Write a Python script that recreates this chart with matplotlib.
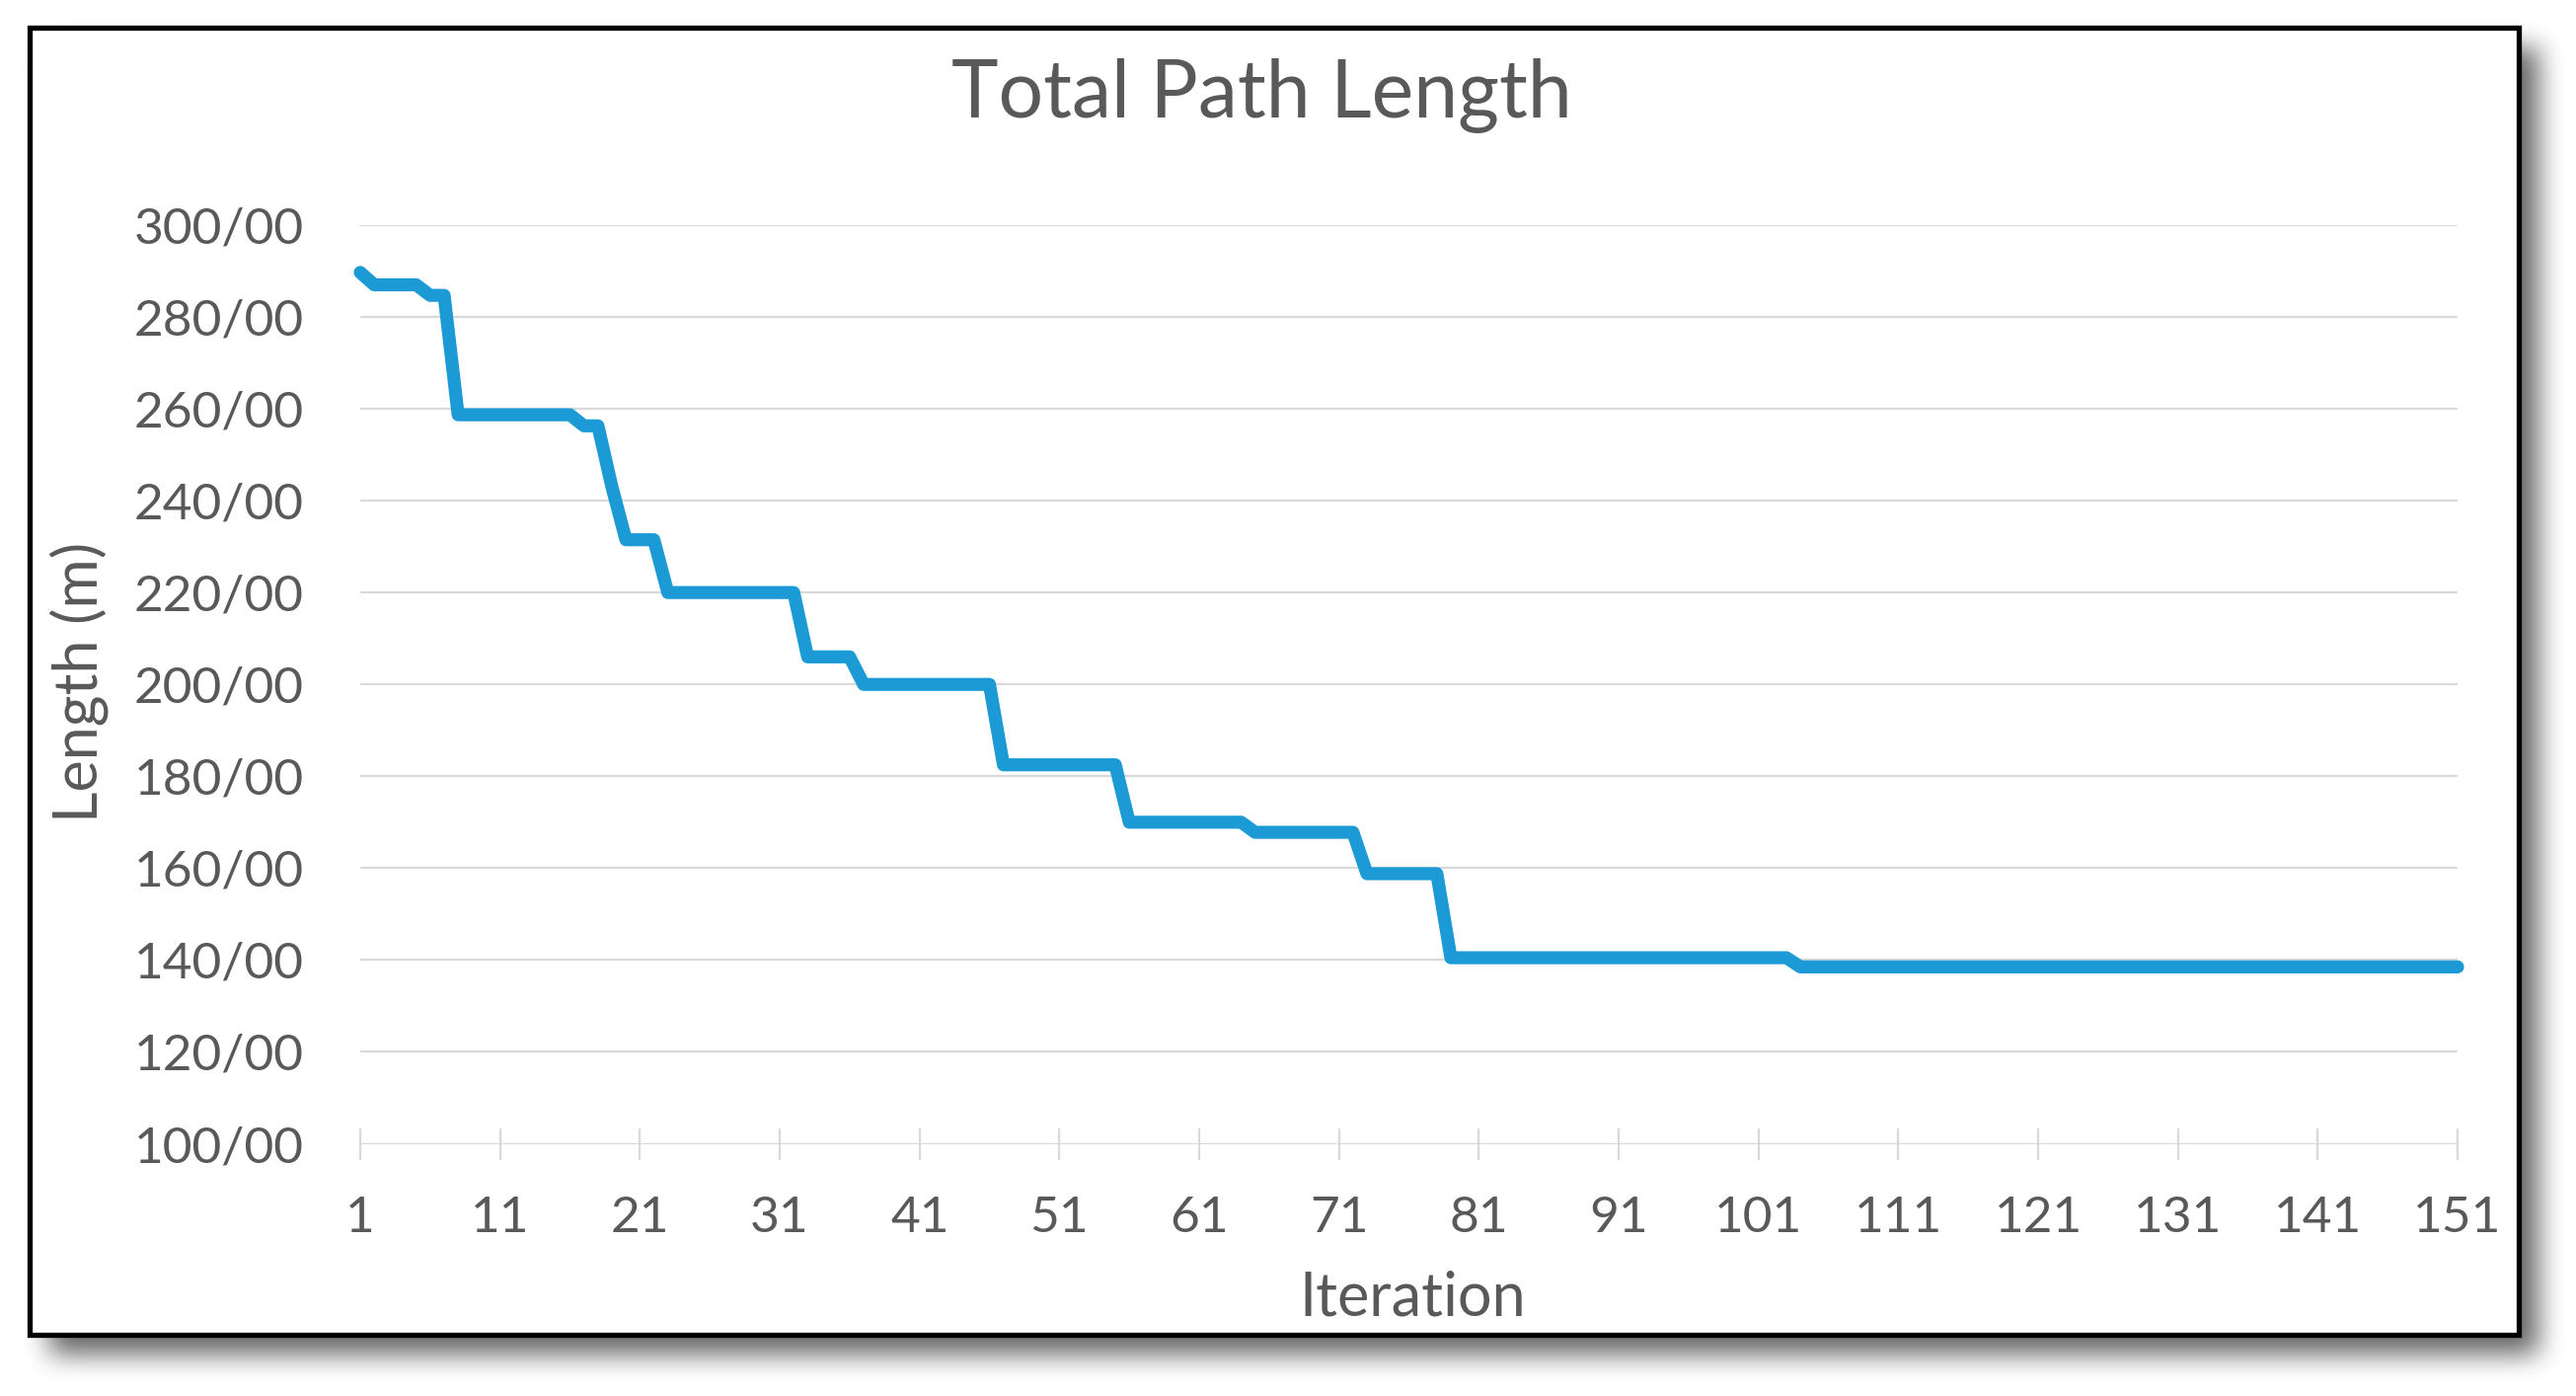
import numpy as np
import matplotlib
matplotlib.use("Agg")
from matplotlib import pyplot as plt
from matplotlib.patches import Rectangle

# values (one per iteration, 1..151)
iterations = list(range(1, 152))
length_m = [
    289.7, 287.0, 287.0, 287.0, 287.0, 284.7, 284.7, 258.7, 258.7, 258.7,
    258.7, 258.7, 258.7, 258.7, 258.7, 258.7, 256.3, 256.3, 243.0, 231.5,
    231.5, 231.5, 220.0, 220.0, 220.0, 220.0, 220.0, 220.0, 220.0, 220.0,
    220.0, 220.0, 206.0, 206.0, 206.0, 206.0, 200.0, 200.0, 200.0, 200.0,
    200.0, 200.0, 200.0, 200.0, 200.0, 200.0, 182.5, 182.5, 182.5, 182.5,
    182.5, 182.5, 182.5, 182.5, 182.5, 170.0, 170.0, 170.0, 170.0, 170.0,
    170.0, 170.0, 170.0, 170.0, 167.8, 167.8, 167.8, 167.8, 167.8, 167.8,
    167.8, 167.8, 158.8, 158.8, 158.8, 158.8, 158.8, 158.8, 140.5, 140.5,
    140.5, 140.5, 140.5, 140.5, 140.5, 140.5, 140.5, 140.5, 140.5, 140.5,
    140.5, 140.5, 140.5, 140.5, 140.5, 140.5, 140.5, 140.5, 140.5, 140.5,
    140.5, 140.5, 140.5, 138.5, 138.5, 138.5, 138.5, 138.5, 138.5, 138.5,
    138.5, 138.5, 138.5, 138.5, 138.5, 138.5, 138.5, 138.5, 138.5, 138.5,
    138.5, 138.5, 138.5, 138.5, 138.5, 138.5, 138.5, 138.5, 138.5, 138.5,
    138.5, 138.5, 138.5, 138.5, 138.5, 138.5, 138.5, 138.5, 138.5, 138.5,
    138.5, 138.5, 138.5, 138.5, 138.5, 138.5, 138.5, 138.5, 138.5, 138.5,
    138.5,
]
x_ticks = list(range(1, 152, 10))
y_ticks = list(range(100, 301, 20))
y_tick_labels = ["{0}/00".format(v) for v in y_ticks]

W, H = 2610, 1414
text_gray = "#595959"
grid_gray = "#D9D9D9"
plt.rcParams["font.family"] = ["Lato", "DejaVu Sans"]

fig = plt.figure(figsize=(W / 100, H / 100), dpi=100)
fig.patch.set_facecolor("white")

# background: soft drop shadow + black frame
bg = fig.add_axes([0, 0, 1, 1])
bg.set_xlim(0, W)
bg.set_ylim(H, 0)
bg.axis("off")

x0, y0, x1, y1 = 30, 28, 2552, 1352
mask = np.zeros((H, W))
off = 20
mask[y0 + off:y1 + off, x0 + off:x1 + off] = 1.0
r = 12
for _ in range(3):
    c = np.cumsum(np.pad(mask, ((0, 0), (r + 1, r)), mode="edge"), axis=1)
    mask = (c[:, 2 * r + 1:] - c[:, :-2 * r - 1]) / (2 * r + 1)
    c = np.cumsum(np.pad(mask, ((r + 1, r), (0, 0)), mode="edge"), axis=0)
    mask = (c[2 * r + 1:, :] - c[:-2 * r - 1, :]) / (2 * r + 1)
shadow = np.zeros((H, W, 4))
shadow[..., 3] = mask * 0.6
bg.imshow(shadow, extent=(0, W, H, 0), interpolation="bilinear", zorder=0)
bg.add_patch(Rectangle((x0, y0), x1 - x0, y1 - y0, facecolor="white",
                       edgecolor="black", linewidth=3.8, zorder=1))

# chart area
left, right = 365 / W, 2490 / W
bottom, top = 1 - 1158.5 / H, 1 - 228 / H
ax = fig.add_axes([left, bottom, right - left, top - bottom])
ax.patch.set_alpha(0)

ax.plot(iterations, length_m, color="#1B9AD6", linewidth=9.5, clip_on=False,
        solid_joinstyle="round", solid_capstyle="round", zorder=3)

ax.set_xlim(1, 151)
ax.set_ylim(100, 300)
ax.set_yticks(y_ticks)
ax.set_yticklabels(y_tick_labels)
ax.set_xticks(x_ticks)
ax.grid(axis="y", color=grid_gray, linewidth=1.6, zorder=1)
ax.set_axisbelow(True)
for s in ax.spines.values():
    s.set_visible(False)

ax.tick_params(axis="y", length=0, pad=41, labelsize=37, labelcolor=text_gray)
ax.tick_params(axis="x", direction="inout", length=23, width=1.6, color=grid_gray,
               pad=26, labelsize=37, labelcolor=text_gray)

fig.text(1278 / W, 1 - 97 / H, "Total Path Length", ha="center", va="center",
         fontsize=58, color=text_gray)
fig.text(1431 / W, 1 - 1315 / H, "Iteration", ha="center", va="center",
         fontsize=44, color=text_gray)
fig.text(80 / W, 1 - 691 / H, "Length (m)", ha="center", va="center",
         rotation=90, fontsize=44, color=text_gray)

fig.savefig("out.png", dpi=100)
